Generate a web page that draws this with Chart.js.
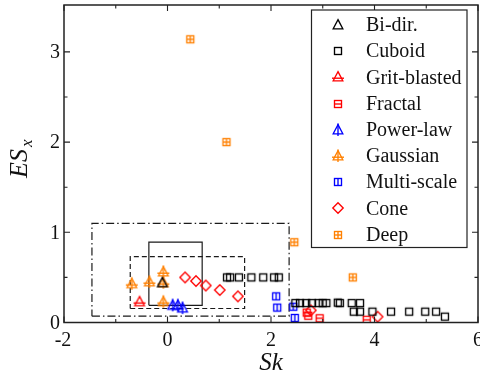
<!DOCTYPE html>
<html>
<head>
<meta charset="utf-8">
<script src="https://cdn.jsdelivr.net/npm/chart.js@4/dist/chart.umd.min.js"></script>
<style>
html,body{margin:0;padding:0;background:#fff;}
canvas{display:block;}
</style>
</head>
<body>
<canvas id="c" width="480" height="374"></canvas>
<script>
// ---- data ----
const seriesNames = ['Bi-dir.','Cuboid','Grit-blasted','Fractal','Power-law','Gaussian','Multi-scale','Cone','Deep'];

const biDirX = [-0.10];
const biDirY = [0.44];

const cuboidX = [1.15,1.21,1.38,1.62,1.85,2.06,2.15,
                 2.47,2.56,2.68,2.79,2.92,3.00,3.07,3.29,3.33,3.56,3.72,
                 3.60,3.72,3.96,4.32,4.67,4.98,5.19,5.36];
const cuboidY = [0.50,0.50,0.50,0.50,0.50,0.50,0.50,
                 0.215,0.215,0.215,0.215,0.215,0.215,0.215,0.22,0.215,0.215,0.215,
                 0.12,0.12,0.12,0.12,0.12,0.12,0.12,0.065];

const gritX = [-0.54];
const gritY = [0.23];

const fractalX = [2.69,2.72,2.94,3.85];
const fractalY = [0.11,0.075,0.047,0.03];

const powerX = [0.10,0.20,0.29];
const powerY = [0.19,0.19,0.16];

const gaussX = [-0.69,-0.35,-0.08,-0.08,-0.08];
const gaussY = [0.43,0.45,0.56,0.44,0.23];

const multiX = [2.10,2.12,2.43,2.46];
const multiY = [0.29,0.165,0.175,0.05];

const coneX = [0.34,0.55,0.74,1.01,1.36,2.77,4.06];
const coneY = [0.50,0.46,0.41,0.36,0.29,0.135,0.064];

const deepX = [0.44,1.14,2.45,3.58];
const deepY = [3.14,2.00,0.89,0.50];

// annotation boxes (data coordinates: [min,max])
const solidBoxX = [-0.36,0.67],  solidBoxY = [0.19,0.89];
const dashBoxX  = [-0.72,1.49],  dashBoxY  = [0.155,0.73];
const dotBoxX   = [-1.46,2.35],  dotBoxY   = [0.07,1.10];

// axes
const xMajorTicks = [-2,0,2,4,6];
const xMinorTicks = [-1,1,3,5];
const yMajorTicks = [0,1,2,3];
const yMinorTicks = [0.5,1.5,2.5];
const xRange = [-2,6];
const yRange = [0,3.52];
const xTitle = 'Sk';
const yTitleMain = 'ES';
const yTitleSub = 'x';

// ---- helpers ----
const pts = (xs,ys) => xs.map((v,i)=>({x:v,y:ys[i]}));
const boxPts = (bx,by) => [
  {x:bx[0],y:by[0]},{x:bx[1],y:by[0]},{x:bx[1],y:by[1]},{x:bx[0],y:by[1]},{x:bx[0],y:by[0]}
];

function marker(kind, color){
  const c = document.createElement('canvas');
  c.width = 16; c.height = 16;
  const g = c.getContext('2d');
  g.strokeStyle = color; g.lineWidth = 1.35; g.lineJoin='miter';
  const tri = () => { g.beginPath(); g.moveTo(8,2.6); g.lineTo(12.8,11.8); g.lineTo(3.2,11.8); g.closePath(); g.stroke(); };
  const sq = () => { g.strokeRect(4.5,4.5,7,7); };
  const line = (x1,y1,x2,y2) => { g.beginPath(); g.moveTo(x1,y1); g.lineTo(x2,y2); g.stroke(); };
  switch(kind){
    case 'tri': tri(); break;
    case 'triH': tri(); line(2,9.2,14,9.2); break;
    case 'triV': tri(); line(8,1.5,8,14); break;
    case 'triX': tri(); line(2,9.2,14,9.2); line(8,1.5,8,14); break;
    case 'sq': sq(); break;
    case 'sqH': sq(); line(4.5,8,11.5,8); break;
    case 'sqV': sq(); line(8,4.5,8,11.5); break;
    case 'sqX': sq(); line(4.5,8,11.5,8); line(8,4.5,8,11.5); break;
    case 'dia': g.beginPath(); g.moveTo(8,2.8); g.lineTo(13.2,8); g.lineTo(8,13.2); g.lineTo(2.8,8); g.closePath(); g.stroke(); break;
  }
  return c;
}

const BLACK='#000000', RED='#ff0000', BLUE='#0000ff', ORANGE='#ff8000';
const markers = [
  marker('tri',BLACK), marker('sq',BLACK), marker('triH',RED), marker('sqH',RED),
  marker('triV',BLUE), marker('triX',ORANGE), marker('sqV',BLUE), marker('dia',RED), marker('sqX',ORANGE)
];
const seriesData = [
  pts(biDirX,biDirY), pts(cuboidX,cuboidY), pts(gritX,gritY), pts(fractalX,fractalY),
  pts(powerX,powerY), pts(gaussX,gaussY), pts(multiX,multiY), pts(coneX,coneY), pts(deepX,deepY)
];

const datasets = seriesNames.map((n,i)=>({
  type:'scatter', label:n, data:seriesData[i], pointStyle:markers[i], isSeries:true
}));
const boxStyle = {type:'line', showLine:true, pointRadius:0, borderColor:'#1a1a1a', borderWidth:1.2, fill:false, tension:0};
datasets.push(Object.assign({label:'box1', data:boxPts(solidBoxX,solidBoxY)}, boxStyle));
datasets.push(Object.assign({label:'box2', data:boxPts(dashBoxX,dashBoxY), borderDash:[5,3]}, boxStyle));
datasets.push(Object.assign({label:'box3', data:boxPts(dotBoxX,dotBoxY), borderDash:[8,3,1.5,3]}, boxStyle));

const SERIF = '"Liberation Serif","Times New Roman",serif';

const decor = {
  id:'decor',
  afterDraw(chart){
    const {ctx, chartArea:a, scales:{x,y}} = chart;
    ctx.save();
    // frame
    ctx.strokeStyle='#222'; ctx.lineWidth=1.5;
    ctx.strokeRect(a.left,a.top,a.right-a.left,a.bottom-a.top);
    // ticks (inward, all four sides)
    ctx.lineWidth=1.1;
    ctx.beginPath();
    const xt=(v,len)=>{const p=x.getPixelForValue(v); ctx.moveTo(p,a.bottom); ctx.lineTo(p,a.bottom-len); ctx.moveTo(p,a.top); ctx.lineTo(p,a.top+len);};
    const yt=(v,len)=>{const p=y.getPixelForValue(v); ctx.moveTo(a.left,p); ctx.lineTo(a.left+len,p); ctx.moveTo(a.right,p); ctx.lineTo(a.right-len,p);};
    xMajorTicks.forEach(v=>xt(v,6)); xMinorTicks.forEach(v=>xt(v,3.5));
    yMajorTicks.forEach(v=>yt(v,6)); yMinorTicks.forEach(v=>yt(v,3.5));
    ctx.stroke();
    // tick labels
    ctx.fillStyle='#111';
    ctx.font='20px '+SERIF;
    ctx.textAlign='center'; ctx.textBaseline='alphabetic';
    xMajorTicks.forEach(v=>ctx.fillText(v<0?'-'+Math.abs(v):String(v), x.getPixelForValue(v)-(v<0?1:0), a.bottom+23));
    ctx.textAlign='right'; ctx.textBaseline='middle';
    yMajorTicks.forEach(v=>ctx.fillText(String(v), a.left-4, y.getPixelForValue(v)+1));
    // axis titles
    ctx.font='italic 25px '+SERIF;
    ctx.textAlign='center'; ctx.textBaseline='alphabetic';
    ctx.fillText(xTitle,(a.left+a.right)/2, 370);
    ctx.save();
    ctx.translate(27,178); ctx.rotate(-Math.PI/2);
    ctx.textAlign='left';
    ctx.font='italic 26px '+SERIF;
    ctx.fillText(yTitleMain,0,0);
    const w=ctx.measureText(yTitleMain).width;
    ctx.font='italic 17px '+SERIF;
    ctx.fillText(yTitleSub,w+2,5);
    ctx.restore();
    // legend
    const L=311.5, T=10, R=467, B=247.5;
    ctx.fillStyle='#fff'; ctx.fillRect(L,T,R-L,B-T);
    ctx.strokeStyle='#222'; ctx.lineWidth=1.2; ctx.strokeRect(L,T,R-L,B-T);
    ctx.fillStyle='#111'; ctx.font='20px '+SERIF; ctx.textAlign='left'; ctx.textBaseline='middle';
    chart.data.datasets.forEach((d,i)=>{
      if(!d.isSeries) return;
      const yy = 25 + i*26.2;
      ctx.drawImage(d.pointStyle, 338-8, Math.round(yy)-8);
      ctx.fillText(d.label, 366, yy+1);
    });
    ctx.restore();
  }
};

new Chart(document.getElementById('c'), {
  type:'scatter',
  data:{datasets},
  options:{
    responsive:false,
    animation:false,
    layout:{autoPadding:false, padding:{top:5,right:2,left:0,bottom:0}},
    plugins:{legend:{display:false}, tooltip:{enabled:false}},
    scales:{
      x:{type:'linear', min:xRange[0], max:xRange[1],
         ticks:{display:false}, grid:{display:false}, border:{display:false},
         afterFit:s=>{s.height=51.5;}},
      y:{type:'linear', min:yRange[0], max:yRange[1],
         ticks:{display:false}, grid:{display:false}, border:{display:false},
         afterFit:s=>{s.width=64;}}
    }
  },
  plugins:[decor]
});
</script>
</body>
</html>
